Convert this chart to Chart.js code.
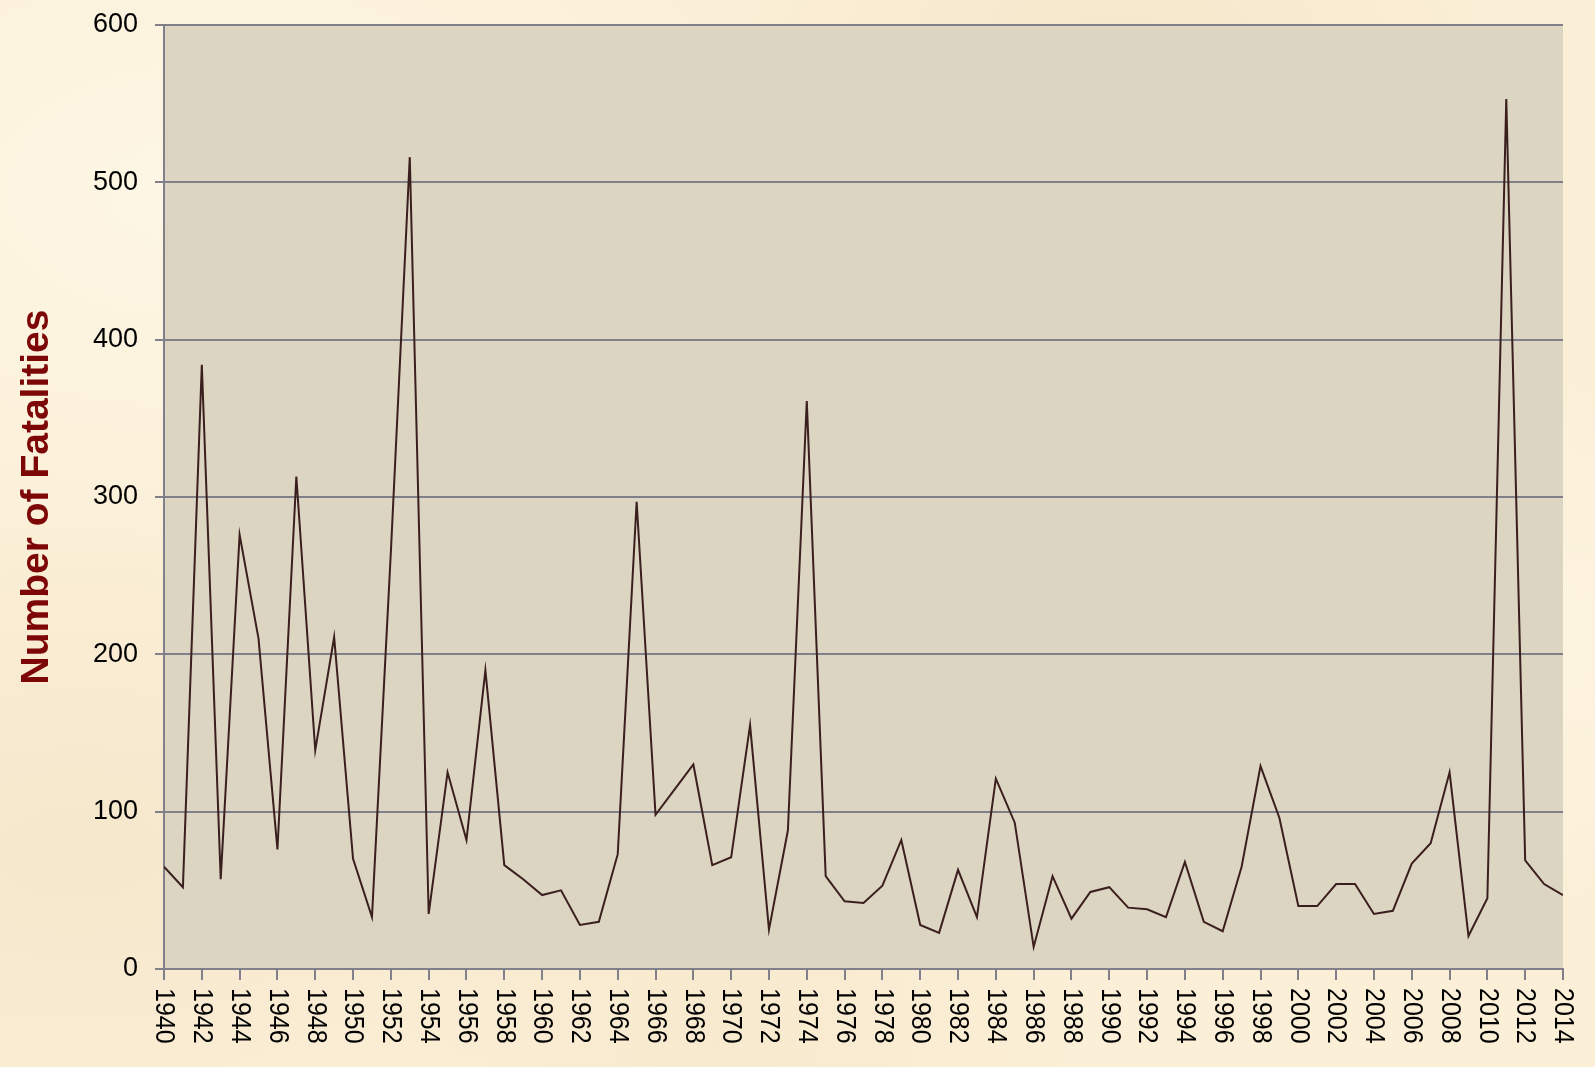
<!DOCTYPE html>
<html>
<head>
<meta charset="utf-8">
<title>Number of Fatalities 1940-2014</title>
<script src="https://cdn.jsdelivr.net/npm/chart.js@4.4.1/dist/chart.umd.min.js"></script>
<style>
  html, body {
    margin: 0;
    padding: 0;
  }
  body {
    width: 1595px;
    height: 1067px;
    overflow: hidden;
    background-color: #fbefd7;
    background-image:
      radial-gradient(ellipse at 12% 18%, rgba(255, 250, 235, 0.7) 0%, rgba(255, 250, 235, 0) 30%),
      radial-gradient(ellipse at 70% 8%, rgba(240, 222, 190, 0.5) 0%, rgba(240, 222, 190, 0) 25%),
      radial-gradient(ellipse at 92% 60%, rgba(255, 248, 230, 0.6) 0%, rgba(255, 248, 230, 0) 30%),
      radial-gradient(ellipse at 5% 80%, rgba(242, 226, 196, 0.6) 0%, rgba(242, 226, 196, 0) 28%),
      radial-gradient(ellipse at 45% 98%, rgba(245, 230, 200, 0.6) 0%, rgba(245, 230, 200, 0) 30%);
  }
  #wrap {
    position: relative;
    width: 1595px;
    height: 1067px;
  }
</style>
</head>
<body>
<div id="wrap"><canvas id="chart"></canvas></div>
<script>
// years on the x axis
const years = [
  1940, 1941, 1942, 1943, 1944, 1945, 1946, 1947, 1948, 1949,
  1950, 1951, 1952, 1953, 1954, 1955, 1956, 1957, 1958, 1959,
  1960, 1961, 1962, 1963, 1964, 1965, 1966, 1967, 1968, 1969,
  1970, 1971, 1972, 1973, 1974, 1975, 1976, 1977, 1978, 1979,
  1980, 1981, 1982, 1983, 1984, 1985, 1986, 1987, 1988, 1989,
  1990, 1991, 1992, 1993, 1994, 1995, 1996, 1997, 1998, 1999,
  2000, 2001, 2002, 2003, 2004, 2005, 2006, 2007, 2008, 2009,
  2010, 2011, 2012, 2013, 2014
];

// fatalities per year
const fatalities = [
  65, 52, 384, 57, 276, 210, 76, 313, 139, 211,
  70, 33, 265, 516, 35, 125, 82, 190, 66, 57,
  47, 50, 28, 30, 73, 297, 98, 114, 130, 66,
  71, 155, 25, 88, 361, 59, 43, 42, 53, 82,
  28, 23, 63, 33, 121, 93, 14, 59, 32, 49,
  52, 39, 38, 33, 68, 30, 24, 65, 129, 96,
  40, 40, 54, 54, 35, 37, 67, 80, 125, 21,
  45, 553, 69, 54, 47
];

const yTicks = [0, 100, 200, 300, 400, 500, 600];
const yTitle = 'Number of Fatalities';

const FONT = '"Liberation Sans", Arial, sans-serif';
const GRID = '#81808a';

// plot area fill
const plotBg = {
  id: 'plotBg',
  beforeDraw(chart) {
    const { ctx, chartArea: a } = chart;
    ctx.save();
    ctx.fillStyle = '#dcd5c1';
    ctx.fillRect(a.left, a.top, a.right - a.left, a.bottom - a.top);
    ctx.restore();
  }
};

// x labels read top-to-bottom (rotated clockwise), which Chart.js can't do natively
const xLabels = {
  id: 'xLabels',
  afterDraw(chart) {
    const scale = chart.scales.x;
    const ctx = chart.ctx;
    ctx.save();
    ctx.font = '25px ' + FONT;
    ctx.fillStyle = '#000';
    ctx.textAlign = 'left';
    ctx.textBaseline = 'middle';
    scale.ticks.forEach((t, i) => {
      const px = scale.getPixelForTick(i);
      ctx.save();
      ctx.translate(px, scale.top + 19);
      ctx.rotate(Math.PI / 2);
      ctx.scale(1, 1.12);
      ctx.fillText(String(t.value), 0, 0);
      ctx.restore();
    });
    ctx.restore();
  }
};

new Chart(document.getElementById('chart'), {
  type: 'line',
  data: {
    datasets: [{
      label: yTitle,
      data: years.map((yr, i) => ({ x: yr, y: fatalities[i] })),
      borderColor: '#3b1e1e',
      borderWidth: 2,
      pointRadius: 0,
      tension: 0,
      fill: false
    }]
  },
  options: {
    responsive: true,
    maintainAspectRatio: false,
    animation: false,
    layout: {
      padding: { top: 25, right: 32, bottom: 0, left: 0 }
    },
    plugins: {
      legend: { display: false },
      tooltip: { enabled: false }
    },
    scales: {
      x: {
        type: 'linear',
        min: years[0],
        max: years[years.length - 1],
        afterBuildTicks: (scale) => {
          scale.ticks = years.filter(y => y % 2 === 0).map(v => ({ value: v }));
        },
        afterFit: (scale) => {
          scale.height = 98;
          scale.paddingLeft = 0;
          scale.paddingRight = 0;
        },
        grid: {
          drawOnChartArea: false,
          drawTicks: true,
          tickLength: 11,
          color: GRID,
          lineWidth: 2
        },
        border: { display: true, color: GRID, width: 2 },
        ticks: { display: false }
      },
      y: {
        min: 0,
        max: 600,
        afterBuildTicks: (scale) => {
          scale.ticks = yTicks.map(v => ({ value: v }));
        },
        afterFit: (scale) => {
          scale.width = 164;
          scale.paddingTop = 0;
          scale.paddingBottom = 0;
        },
        grid: {
          color: GRID,
          lineWidth: 2,
          drawTicks: true,
          tickLength: 9
        },
        border: { display: true, color: GRID, width: 2 },
        ticks: {
          color: '#000',
          padding: 17,
          font: { family: FONT, size: 27 }
        },
        title: {
          display: true,
          text: yTitle,
          color: '#7d0606',
          padding: { top: 14, bottom: 0 },
          font: { family: FONT, size: 39, weight: 'bold' }
        }
      }
    }
  },
  plugins: [plotBg, xLabels]
});
</script>
</body>
</html>
